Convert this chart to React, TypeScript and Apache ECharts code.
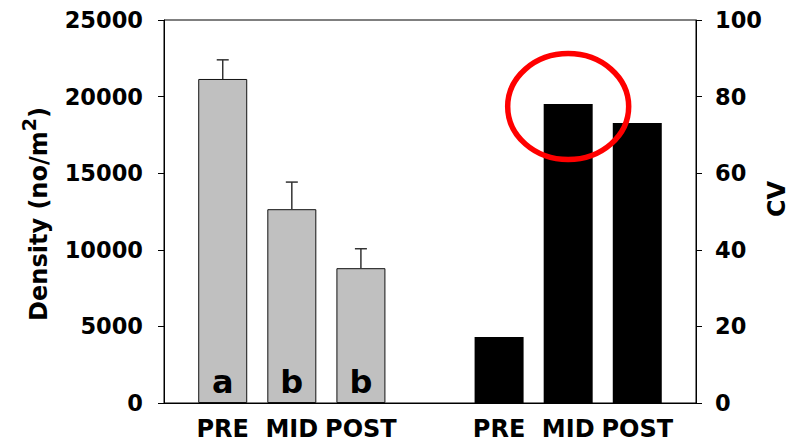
import React, { useEffect, useRef } from "react";
import * as echarts from "echarts";

// ---- data ----
const categories = ["PRE", "MID", "POST"];
const densityPositions = [1, 2, 3];
const cvPositions = [5, 6, 7];
const densityMean = [21150, 12650, 8800];
const densityError = [1250, 1770, 1270];
const cvValues = [17.2, 78.1, 73.1];
const letters = ["a", "b", "b"];
const densityAxis = { min: 0, max: 25000, interval: 5000 };
const cvAxis = { min: 0, max: 100, interval: 20 };
const highlight = { x: 6, cv: 77.4 };

const FONT = "'DejaVu Sans', Arial, sans-serif";

export default function App() {
  const ref = useRef<HTMLDivElement>(null);
  useEffect(() => {
    if (!ref.current) return;
    const chart = echarts.init(ref.current, null, { renderer: "svg" });
    const labelMap = new Map<number, string>();
    densityPositions.forEach((p, i) => labelMap.set(p, categories[i]));
    cvPositions.forEach((p, i) => labelMap.set(p, categories[i]));

    chart.setOption({
      animation: false,
      backgroundColor: "#fff",
      grid: {
        left: 164,
        right: 108,
        top: 20,
        bottom: 41,
        show: true,
        borderColor: "#000",
        borderWidth: 1,
      },
      xAxis: {
        type: "value",
        min: 0.15,
        max: 7.85,
        splitLine: { show: false },
        axisTick: { show: false },
        axisLine: { show: true, lineStyle: { color: "#000", width: 1 } },
        axisLabel: {
          customValues: [...densityPositions, ...cvPositions],
          formatter: (v: number) => labelMap.get(Math.round(v)) || "",
          color: "#000",
          fontFamily: FONT,
          fontWeight: "bold",
          fontSize: 24,
          margin: 14,
        },
      },
      yAxis: [
        {
          type: "value",
          position: "left",
          ...densityAxis,
          splitLine: { show: false },
          axisLine: { show: true, lineStyle: { color: "#000", width: 1 } },
          axisTick: { show: true, length: 6, lineStyle: { color: "#000" } },
          axisLabel: {
            formatter: (v: number) => String(v),
            color: "#000",
            fontFamily: FONT,
            fontWeight: "bold",
            fontSize: 22.5,
            margin: 21,
          },
        },
        {
          type: "value",
          position: "right",
          ...cvAxis,
          splitLine: { show: false },
          axisLine: { show: true, lineStyle: { color: "#000", width: 1 } },
          axisTick: { show: true, length: 6, lineStyle: { color: "#000" } },
          axisLabel: {
            formatter: (v: number) => String(v),
            color: "#000",
            fontFamily: FONT,
            fontWeight: "bold",
            fontSize: 22.5,
            margin: 19,
          },
        },
      ],
      series: [
        {
          name: "Density",
          type: "bar",
          yAxisIndex: 0,
          barWidth: 49,
          barGap: "-100%",
          data: densityPositions.map((p, i) => [p, densityMean[i]]),
          itemStyle: { color: "#c0c0c0", borderColor: "#111", borderWidth: 1 },
          label: {
            show: true,
            position: "insideBottom",
            distance: 5,
            formatter: (p: any) => letters[p.dataIndex],
            color: "#000",
            fontFamily: FONT,
            fontWeight: "bold",
            fontSize: 32,
          },
        },
        {
          name: "CV",
          type: "bar",
          yAxisIndex: 1,
          barWidth: 49,
          barGap: "-100%",
          data: cvPositions.map((p, i) => [p, cvValues[i]]),
          itemStyle: { color: "#000" },
        },
        {
          name: "SE",
          type: "custom",
          yAxisIndex: 0,
          z: 5,
          data: densityPositions.map((p, i) => [p, densityMean[i], densityMean[i] + densityError[i]]),
          renderItem: (params: any, api: any) => {
            const x = api.value(0);
            const a = api.coord([x, api.value(1)]);
            const b = api.coord([x, api.value(2)]);
            const style = { stroke: "#333", lineWidth: 1.5 };
            return {
              type: "group",
              children: [
                { type: "line", shape: { x1: a[0], y1: a[1], x2: b[0], y2: b[1] }, style },
                { type: "line", shape: { x1: b[0] - 6, y1: b[1], x2: b[0] + 6, y2: b[1] }, style },
              ],
            };
          },
        },
      ],
    });

    const c = chart.convertToPixel({ xAxisIndex: 0, yAxisIndex: 1 } as any, [highlight.x, highlight.cv]) as number[];
    chart.setOption({
      graphic: [
        {
          type: "ellipse",
          shape: { cx: c[0], cy: c[1], rx: 60.5, ry: 53 },
          style: { fill: "none", stroke: "#ff0000", lineWidth: 5.5 },
          z: 100,
        },
        {
          type: "text",
          x: 39,
          y: 214,
          rotation: Math.PI / 2,
          style: {
            text: "Density (no/m{sup|2})",
            fontFamily: FONT,
            fontWeight: "bold",
            fontSize: 24,
            lineHeight: 40,
            fill: "#000",
            align: "center",
            verticalAlign: "middle",
            rich: {
              sup: {
                fontFamily: FONT,
                fontWeight: "bold",
                fontSize: 19,
                lineHeight: 16,
                verticalAlign: "top",
                fill: "#000",
              },
            },
          },
        },
        {
          type: "text",
          x: 776.5,
          y: 199,
          rotation: Math.PI / 2,
          style: {
            text: "CV",
            fontFamily: FONT,
            fontWeight: "bold",
            fontSize: 24,
            fill: "#000",
            align: "center",
            verticalAlign: "middle",
          },
        },
      ],
    });

    return () => chart.dispose();
  }, []);
  return (
    <div
      ref={ref}
      style={{ position: "fixed", left: 0, top: 0, width: 804, height: 444 }}
    />
  );
}
